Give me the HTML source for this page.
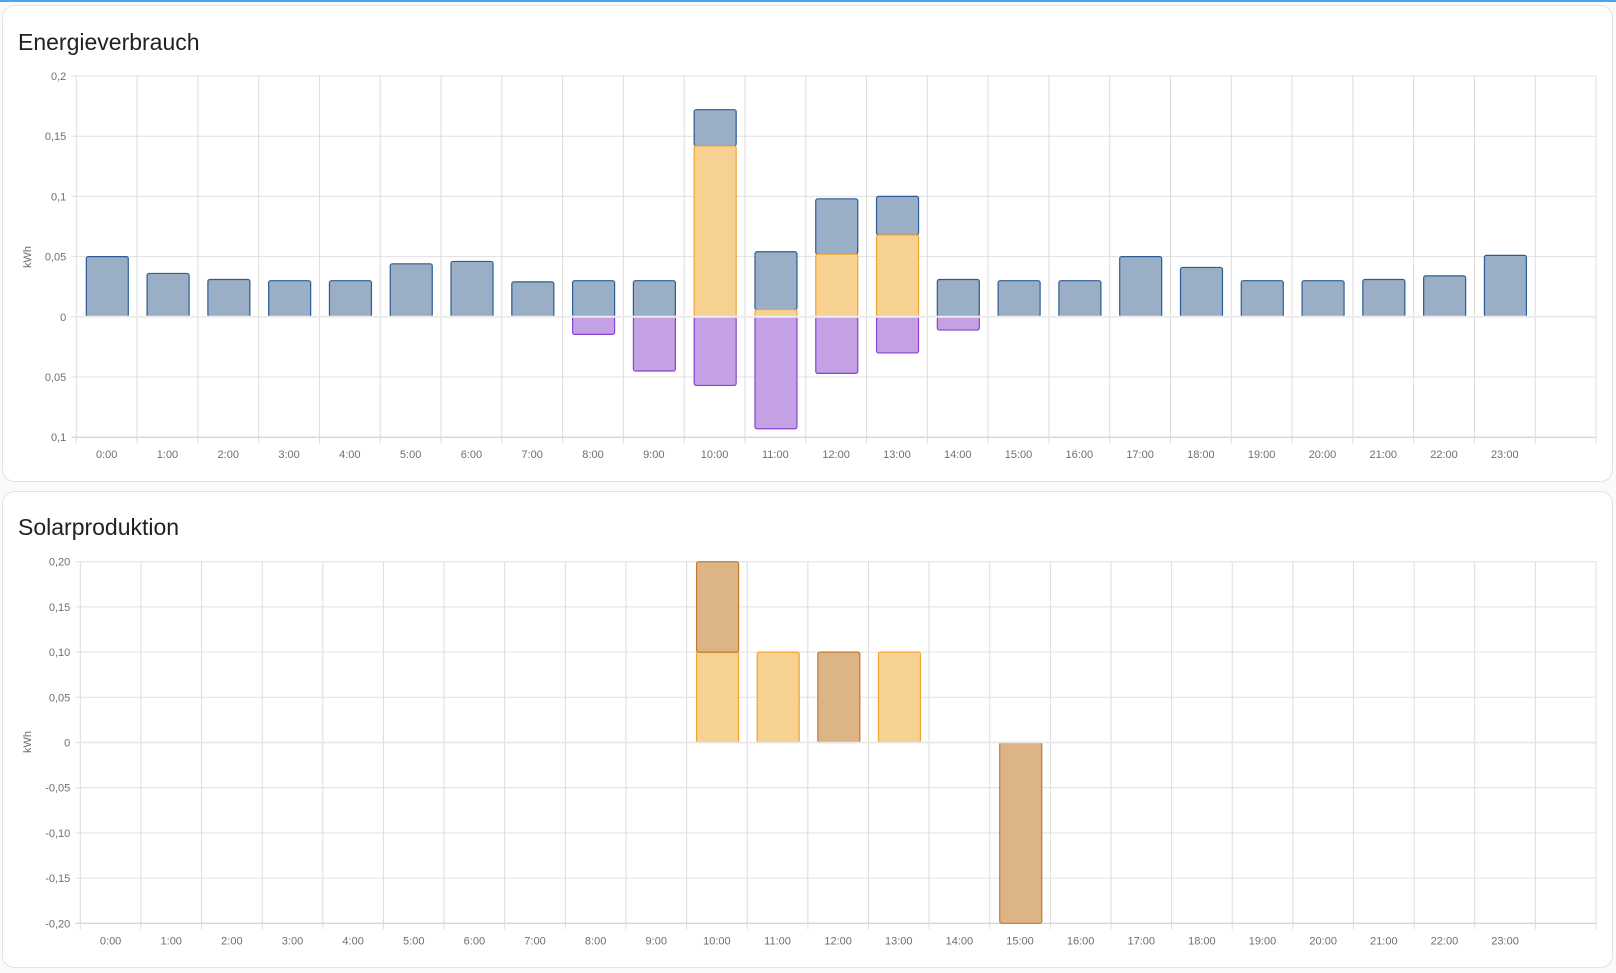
<!DOCTYPE html>
<html><head><meta charset="utf-8"><style>
html,body{margin:0;padding:0;background:#fafafa;width:1616px;height:973px;overflow:hidden}
svg{display:block}
text{font-family:"Liberation Sans",sans-serif}
</style></head><body>
<svg id="s" width="1616" height="973" xmlns="http://www.w3.org/2000/svg">
<rect x="0" y="0" width="1616" height="2" fill="#4aa3ec"/>
<rect x="2.5" y="5.5" width="1610" height="476" rx="12" fill="#fff" stroke="#e2e2e2"/>
<rect x="2.5" y="491.5" width="1610" height="476" rx="12" fill="#fff" stroke="#e2e2e2"/>
<text x="18" y="50" font-size="23" fill="#212121">Energieverbrauch</text>
<text x="18" y="535" font-size="23" fill="#212121">Solarproduktion</text>
<g id="g"></g>
</svg>
<script>
var g=document.getElementById('g'),h='';
function L(x1,y1,x2,y2,c,w){h+='<line x1="'+x1+'" y1="'+y1+'" x2="'+x2+'" y2="'+y2+'" stroke="'+c+'" stroke-width="'+(w||1)+'"/>';}
function T(x,y,t,a){h+='<text x="'+x+'" y="'+y+'" font-size="11" fill="#6f6f6f" text-anchor="'+a+'">'+t+'</text>';}
function R(x,y1,y2,w,f,s){var y=Math.min(y1,y2),hh=Math.abs(y2-y1);if(hh<0.5)return;h+='<rect x="'+x+'" y="'+y+'" width="'+w+'" height="'+hh+'" rx="2" fill="'+f+'" stroke="'+s+'" stroke-width="1.2"/>';}
// chart 1
var L1=76.3,R1=1596,T1=76,step1=60.2,sw1=(R1-L1)/25;
var yl1=['0,2','0,15','0,1','0,05','0','0,05','0,1'];
for(var i=0;i<7;i++){var y=T1+i*step1;L(L1-5,y,R1,y,i==6?'#c8c8c8':'#e0e0e0');T(L1-10,y+4,yl1[i],'end');}
for(var i=0;i<=25;i++){var x=L1+i*sw1;L(x,T1,x,T1+6*step1+6,'#dcdcdc');if(i<24)T(x+sw1/2,T1+6*step1+21,i+':00','middle');}
h+='<text transform="translate(31,257) rotate(-90)" font-size="11" fill="#6f6f6f" text-anchor="middle">kWh</text>';
var z1=T1+4*step1,k1=step1/0.05;
var blue=[.05,.036,.031,.030,.030,.044,.046,.029,.030,.030,.172,.054,.098,.100,.031,.030,.030,.050,.041,.030,.030,.031,.034,.051];
var or={10:.142,11:.006,12:.052,13:.068};
var pu={8:.0146,9:.045,10:.057,11:.093,12:.047,13:.030,14:.011};
for(var i=0;i<24;i++){var x=L1+i*sw1+10,o=or[i]||0;
R(x,z1-o*k1,z1-blue[i]*k1,42,'#9aafc6','#2c5c94');
if(o)R(x,z1,z1-o*k1,42,'#f7d192','#f0a532');
if(pu[i])R(x,z1,z1+pu[i]*k1,42,'#c3a1e4','#8a44d0');}
L(L1,z1,R1,z1,'#ececec',2);
// chart 2
var L2=80.3,R2=1596,T2=561.7,step2=45.2,sw2=(R2-L2)/25;
var yl2=['0,20','0,15','0,10','0,05','0','-0,05','-0,10','-0,15','-0,20'];
for(var i=0;i<9;i++){var y=T2+i*step2;L(L2-5,y,R2,y,i==8?'#c8c8c8':'#e0e0e0');T(L2-10,y+4,yl2[i],'end');}
for(var i=0;i<=25;i++){var x=L2+i*sw2;L(x,T2,x,T2+8*step2+6,'#dcdcdc');if(i<24)T(x+sw2/2,T2+8*step2+21,i+':00','middle');}
h+='<text transform="translate(31,742) rotate(-90)" font-size="11" fill="#6f6f6f" text-anchor="middle">kWh</text>';
var z2=T2+4*step2,k2=step2/0.05;
function bx(i){return L2+i*sw2+10;}
R(bx(10),z2,z2-.1*k2,42,'#f7d192','#f0a532');
R(bx(10),z2-.1*k2,z2-.2*k2,42,'#dcb486','#c27a2c');
R(bx(11),z2,z2-.1*k2,42,'#f7d192','#f0a532');
R(bx(12),z2,z2-.1*k2,42,'#dcb486','#c27a2c');
R(bx(13),z2,z2-.1*k2,42,'#f7d192','#f0a532');
R(bx(15),z2,z2+.2*k2,42,'#dcb486','#c27a2c');
L(L2,z2,R2,z2,'#e6e6e6',1.5);
g.innerHTML=h;
</script>
</body></html>
